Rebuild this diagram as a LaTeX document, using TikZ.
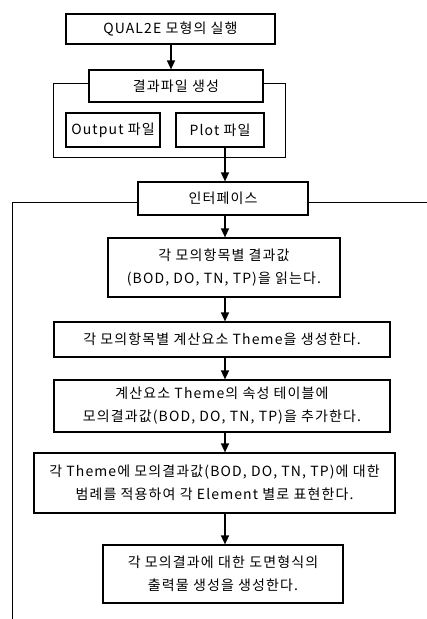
\documentclass[tikz,border=0pt]{standalone}
\usepackage{fontspec}
\setmainfont[LetterSpace=8]{Noto Sans CJK KR}
\usetikzlibrary{arrows.meta}

\tikzset{
  box/.style={draw, line width=1.2pt, fill=white, align=center, inner sep=0pt,
    font=\fontsize{14}{23}\selectfont},
  flow/.style={-{Triangle[length=9pt,width=8pt]}, line width=1.4pt},
  frame/.style={line width=0.9pt}
}

\begin{document}
\begin{tikzpicture}[x=1pt,y=-1pt]
	\useasboundingbox (0,0) rectangle (427,619);
	\coordinate (topline) at (171,0);
	\coordinate (spine) at (225,0);
	% frames
	\draw[frame] (53,83) rectangle (285,157);
	\draw[frame] (12,619) -- (12,202) -- (427,202);
	% boxes
	\node (run) [box, minimum width=209pt, minimum height=30pt] at (170.5,29) {QUAL2E 모형의 실행};
	\node (gen) [box, minimum width=174pt, minimum height=32pt] at (176,86) {결과파일 생성};
	\node (out) [box, minimum width=94pt, minimum height=34pt] at (113,130) {Output 파일};
	\node (plot) [box, minimum width=88pt, minimum height=34pt] at (220,130) {Plot 파일};
	\node (iface) [box, minimum width=170pt, minimum height=33pt] at (223,198.5) {인터페이스};
	\node (read) [box, minimum width=232pt, minimum height=59pt] at (224,267.5) {각 모의항목별 결과값\\(BOD, DO, TN, TP)을 읽는다.};
	\node (theme) [box, minimum width=336pt, minimum height=35pt] at (222,339.5) {각 모의항목별 계산요소 Theme을 생성한다.};
	\node (attr) [box, minimum width=336pt, minimum height=52pt] at (222,406) {계산요소 Theme의 속성 테이블에\\모의결과값(BOD, DO, TN, TP)을 추가한다.};
	\node (legend) [box, minimum width=361pt, minimum height=60pt] at (214.5,483) {각 Theme에 모의결과값(BOD, DO, TN, TP)에 대한\\범례를 적용하여 각 Element 별로 표현한다.};
	\node (map) [box, minimum width=240pt, minimum height=58pt] at (223,574) {각 모의결과에 대한 도면형식의\\출력물 생성을 생성한다.};
	% arrows
	\draw[flow] (topline |- run.south) -- (topline |- gen.north);
	\draw[flow] (spine |- plot.south) -- (spine |- iface.north);
	\draw[flow] (spine |- iface.south) -- (spine |- read.north);
	\draw[flow] (spine |- read.south) -- (spine |- theme.north);
	\draw[flow] (spine |- theme.south) -- (spine |- attr.north);
	\draw[flow] (spine |- attr.south) -- (spine |- legend.north);
	\draw[flow] (spine |- legend.south) -- (spine |- map.north);
\end{tikzpicture}
\end{document}
